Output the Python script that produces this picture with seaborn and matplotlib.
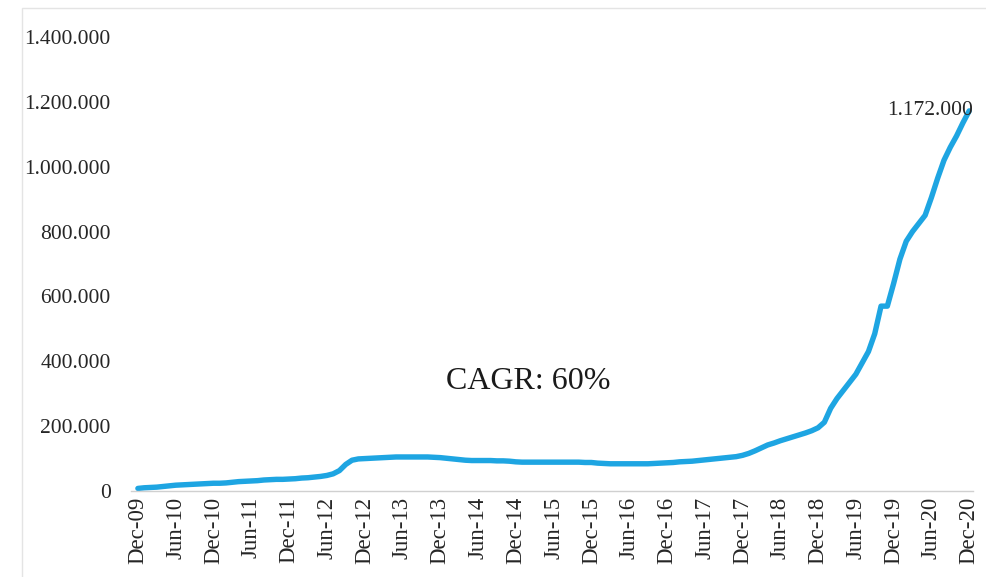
import numpy as np
import pandas as pd
import seaborn as sns
import matplotlib.pyplot as plt
from matplotlib.patches import Rectangle
from matplotlib.ticker import FuncFormatter

# Monthly cumulative total, Dec-09 .. Dec-20
values = [
    8000, 10000, 11000, 12000, 14000, 16000,            # Dec-09 .. May-10
    18000, 19000, 20000, 21000, 22000, 23000,           # Jun-10 .. Nov-10
    24000, 24000, 25000, 27000, 29000, 30000,           # Dec-10 .. May-11
    31000, 32000, 34000, 35000, 36000, 36000,           # Jun-11 .. Nov-11
    37000, 38000, 40000, 41000, 43000, 45000,           # Dec-11 .. May-12
    48000, 53000, 63000, 82000, 95000, 99000,           # Jun-12 .. Nov-12
    100000, 101000, 102000, 103000, 104000, 105000,     # Dec-12 .. May-13
    105000, 105000, 105000, 105000, 105000, 104000,     # Jun-13 .. Nov-13
    103000, 101000, 99000, 97000, 95000, 94000,         # Dec-13 .. May-14
    94000, 94000, 94000, 93000, 93000, 92000,           # Jun-14 .. Nov-14
    90000, 89000, 89000, 89000, 89000, 89000,           # Dec-14 .. May-15
    89000, 89000, 89000, 89000, 89000, 88000,           # Jun-15 .. Nov-15
    88000, 86000, 85000, 84000, 84000, 84000,           # Dec-15 .. May-16
    84000, 84000, 84000, 84000, 85000, 86000,           # Jun-16 .. Nov-16
    87000, 88000, 90000, 91000, 92000, 94000,           # Dec-16 .. May-17
    96000, 98000, 100000, 102000, 104000, 106000,       # Jun-17 .. Nov-17
    110000, 116000, 124000, 133000, 142000, 148000,     # Dec-17 .. May-18
    155000, 161000, 167000, 173000, 179000, 186000,     # Jun-18 .. Nov-18
    195000, 212000, 255000, 285000, 310000, 335000,     # Dec-18 .. May-19
    360000, 395000, 430000, 485000, 570000, 570000,     # Jun-19 .. Nov-19
    640000, 715000, 770000, 800000, 825000, 850000,     # Dec-19 .. May-20
    905000, 965000, 1020000, 1060000, 1095000, 1135000, # Jun-20 .. Nov-20
    1172000,                                            # Dec-20
]

tick_labels = [
    "Dec-09", "Jun-10", "Dec-10", "Jun-11", "Dec-11", "Jun-12",
    "Dec-12", "Jun-13", "Dec-13", "Jun-14", "Dec-14", "Jun-15",
    "Dec-15", "Jun-16", "Dec-16", "Jun-17", "Dec-17", "Jun-18",
    "Dec-18", "Jun-19", "Dec-19", "Jun-20", "Dec-20",
]

end_label = "1.172.000"
cagr_text = "CAGR: 60%"

df = pd.DataFrame({"month": np.arange(len(values)), "total": values})

sns.set_theme(style="white")
plt.rcParams["font.family"] = ["Liberation Serif", "DejaVu Serif"]

fig = plt.figure(figsize=(9.87, 5.77), dpi=100)
ax = fig.add_axes([0.1327, 0.149, 0.8531, 0.787])

# faint chart-area border
fig.patches.append(Rectangle((22 / 987, -0.1), 1.2, 1.1 - 8 / 577,
                             transform=fig.transFigure, fill=False,
                             edgecolor="#e4e4e4", linewidth=1.0, zorder=0))

line_color = "#1ea5e2"
sns.lineplot(data=df, x="month", y="total", ax=ax, color=line_color,
             linewidth=3.9, solid_capstyle="round", solid_joinstyle="round")

ax.set_xlim(-1.1, 132.6)
ax.set_ylim(0, 1400000)
ax.set_yticks(np.arange(0, 1400001, 200000))
ax.yaxis.set_major_formatter(FuncFormatter(lambda v, p: f"{int(v):,}".replace(",", ".")))
ax.tick_params(axis="y", length=0, pad=14.5, labelsize=15.5, labelcolor="#262626")

label_pos = np.arange(0, len(values), 6)
ax.set_xticks(label_pos)
ax.set_xticklabels(tick_labels, rotation=90, fontsize=16.5, color="#262626")
ax.tick_params(axis="x", which="major", length=0, pad=4)
ax.minorticks_on()
ax.yaxis.set_minor_locator(plt.NullLocator())
ax.set_xticks(label_pos - 1.0, minor=True)
ax.tick_params(axis="x", which="minor", length=5, width=1, color="#d0d0d0", direction="out")

ax.set_xlabel("")
ax.set_ylabel("")
for side in ("left", "top", "right"):
    ax.spines[side].set_visible(False)
ax.spines["bottom"].set_color("#d0d0d0")
ax.spines["bottom"].set_linewidth(1.0)

last_x = df["month"].iloc[-1]
last_y = df["total"].iloc[-1]
ax.annotate(end_label, xy=(last_x, last_y), xytext=(3, 0),
            textcoords="offset points", ha="right", va="center",
            fontsize=15.5, color="#262626")

ax.text(62, 338000, cagr_text, ha="center", va="center",
        fontsize=23, color="#1a1a1a")

fig.savefig("out.png", dpi=100, facecolor="white")
